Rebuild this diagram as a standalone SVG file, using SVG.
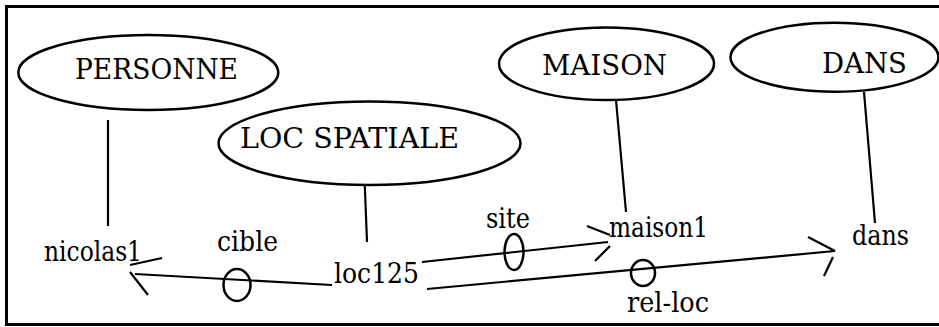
<svg xmlns="http://www.w3.org/2000/svg" width="939" height="327" viewBox="0 0 939 327">
<style>
.frame{fill:none;stroke:#000;stroke-width:3}
.ell{fill:#fff;stroke:#000;stroke-width:2.5}
.ln{fill:none;stroke:#000;stroke-width:2.2}
.rg{fill:none;stroke:#000;stroke-width:2.5}
.t{font-family:'DejaVu Serif','Liberation Serif',serif;font-size:28px;fill:#000}
</style>
<rect width="939" height="327" fill="#fff"/>
<rect class="frame" x="6.5" y="6.5" width="940" height="318"/>
<g id="connectors">
<line class="ln" x1="108" y1="120" x2="108" y2="226"/>
<line class="ln" x1="364" y1="165" x2="367" y2="242"/>
<line class="ln" x1="616" y1="100" x2="626" y2="212"/>
<line class="ln" x1="864" y1="92" x2="875" y2="223"/>
<g id="cible-arc">
<line class="ln" x1="332" y1="285" x2="135" y2="274"/>
<line class="ln" x1="130" y1="265" x2="162" y2="258"/>
<line class="ln" x1="130" y1="272" x2="148" y2="295"/>
<ellipse class="rg" cx="237" cy="285" rx="13.5" ry="16"/>
</g>
<g id="site-arc">
<line class="ln" x1="422" y1="262" x2="608" y2="242"/>
<line class="ln" x1="587" y1="226" x2="610" y2="235"/>
<line class="ln" x1="595" y1="261" x2="610" y2="246"/>
<ellipse class="rg" cx="514" cy="252" rx="9.5" ry="18"/>
</g>
<g id="relloc-arc">
<line class="ln" x1="427" y1="289" x2="835" y2="251"/>
<line class="ln" x1="808" y1="237" x2="835" y2="251"/>
<line class="ln" x1="833" y1="257" x2="824" y2="276"/>
<ellipse class="rg" cx="643" cy="273" rx="12" ry="13"/>
</g>
</g>
<g id="PERSONNE">
<ellipse class="ell" cx="148.3" cy="72.5" rx="130" ry="37.5"/>
<text class="t" x="75" y="79" textLength="163" lengthAdjust="spacingAndGlyphs">PERSONNE</text>
</g>
<g id="LOCSPATIALE">
<ellipse class="ell" cx="369.5" cy="143.3" rx="151" ry="41.7"/>
<text class="t" x="240" y="148" textLength="219" lengthAdjust="spacingAndGlyphs">LOC SPATIALE</text>
</g>
<g id="MAISON">
<ellipse class="ell" cx="606.5" cy="63.7" rx="107.5" ry="36.3"/>
<text class="t" x="542" y="75" textLength="125" lengthAdjust="spacingAndGlyphs">MAISON</text>
</g>
<g id="DANS">
<ellipse class="ell" cx="834.5" cy="57.2" rx="104" ry="34.5"/>
<text class="t" x="822" y="73" textLength="85" lengthAdjust="spacingAndGlyphs">DANS</text>
</g>
<g id="nicolas1"><text class="t" x="44" y="261" textLength="98" lengthAdjust="spacingAndGlyphs">nicolas1</text></g>
<g id="loc125"><text class="t" x="334" y="283" textLength="85" lengthAdjust="spacingAndGlyphs">loc125</text></g>
<g id="maison1"><text class="t" x="609" y="237" textLength="99" lengthAdjust="spacingAndGlyphs">maison1</text></g>
<g id="dans"><text class="t" x="852" y="245" textLength="57" lengthAdjust="spacingAndGlyphs">dans</text></g>
<g id="labels">
<text class="t" x="217" y="251" textLength="61" lengthAdjust="spacingAndGlyphs">cible</text>
<text class="t" x="486" y="228" textLength="44" lengthAdjust="spacingAndGlyphs">site</text>
<text class="t" x="627" y="312" textLength="82" lengthAdjust="spacingAndGlyphs">rel-loc</text>
</g>
</svg>
